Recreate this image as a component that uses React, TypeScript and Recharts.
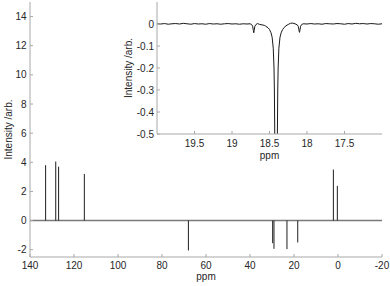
import React from 'react'
import { ComposedChart, LineChart, Line, XAxis, YAxis, ReferenceLine, CartesianGrid, Label } from 'recharts'

// main spectrum (ppm axis runs right-to-left)
const mainTicksX = [140, 120, 100, 80, 60, 40, 20, 0, -20]
const mainTicksY = [-2, 0, 2, 4, 6, 8, 10, 12, 14]
const baselineShift = [140, -20]
const peakShift = [132.9, 128.3, 127.0, 115.3, 68.0, 29.7, 29.1, 23.2, 18.3, 2.1, 0.3]
const peakHeight = [3.8, 4.05, 3.7, 3.2, -2.05, -1.55, -1.94, -1.96, -1.5, 3.5, 2.38]

// inset zoom around 18.4 ppm
const insetTicksX = [19.5, 19, 18.5, 18, 17.5]
const insetTicksY = [-0.5, -0.4, -0.3, -0.2, -0.1, 0]
const insetShift = [
  20.0, 19.95, 19.9, 19.85, 19.8, 19.75, 19.7, 19.65, 19.6, 19.55,
  19.5, 19.45, 19.4, 19.35, 19.3, 19.25, 19.2, 19.15, 19.1, 19.05,
  19.0, 18.95, 18.9, 18.85, 18.8, 18.76, 18.74, 18.725, 18.715, 18.71,
  18.705, 18.695, 18.68, 18.66, 18.63, 18.6, 18.57, 18.55, 18.52, 18.5,
  18.48, 18.465, 18.45, 18.44, 18.435, 18.43, 18.425, 18.42, 18.413, 18.405,
  18.4, 18.395, 18.39, 18.385, 18.375, 18.36, 18.345, 18.325, 18.305, 18.28,
  18.25, 18.22, 18.19, 18.16, 18.13, 18.115, 18.105, 18.1, 18.095, 18.085,
  18.07, 18.05, 18.0, 17.95, 17.9, 17.85, 17.8, 17.75, 17.7, 17.65,
  17.6, 17.55, 17.5, 17.45, 17.4, 17.35, 17.3, 17.25, 17.2, 17.15,
  17.1, 17.05, 17.0,
]
const insetIntensity = [
  0.001, 0.0, 0.002, -0.001, 0.001, 0.002, 0.0, 0.003, 0.001, -0.001,
  0.002, 0.0, 0.001, -0.001, 0.002, 0.0, 0.001, -0.001, 0.001, 0.002,
  0.0, 0.001, -0.001, 0.001, 0.0, 0.001, -0.002, -0.01, -0.03, -0.04,
  -0.03, -0.01, -0.002, 0.002, -0.002, -0.004, -0.006, -0.01, -0.017, -0.025,
  -0.04, -0.06, -0.11, -0.2, -0.3, -0.5, -0.9, -1.6, -2.0, -1.6,
  -0.9, -0.5, -0.3, -0.2, -0.11, -0.06, -0.04, -0.025, -0.016, -0.008,
  -0.002, 0.003, 0.004, 0.001, -0.004, -0.012, -0.032, -0.038, -0.03, -0.01,
  -0.002, 0.001, 0.0, 0.002, 0.0, 0.001, -0.001, 0.002, 0.001, 0.0,
  0.002, 0.001, -0.001, 0.002, 0.0, 0.003, 0.001, 0.002, 0.0, 0.002,
  0.001, -0.001, 0.001,
]

const FONT = "'Liberation Sans', Arial, Helvetica, sans-serif"
const AXIS = '#a8a8a8'
const TEXT = '#262626'
const tickStyle = { fontSize: 10, fill: TEXT, fontFamily: FONT }
const noLabel = () => ''

export default function App() {
  const baseline = baselineShift.map(ppm => ({ ppm, v: 0 }))
  const inset = insetShift.map((ppm, i) => ({ ppm, v: insetIntensity[i] }))

  return (
    <div style={{ position: 'absolute', left: 0, top: 0, width: 390, height: 286, background: '#fff' }}>
      <ComposedChart width={390} height={286} data={baseline} margin={{ top: 2, right: 8, bottom: 0, left: 0 }}>
        <XAxis xAxisId="b" dataKey="ppm" type="number" domain={[-20, 140]} reversed ticks={mainTicksX}
          height={29} stroke={AXIS} tickSize={-3} tickMargin={8} tick={tickStyle} allowDataOverflow>
          <Label value="ppm" position="insideBottom" offset={6} fontSize={10} fill={TEXT} fontFamily={FONT} />
        </XAxis>
        <XAxis xAxisId="t" orientation="top" dataKey="ppm" type="number" domain={[-20, 140]} reversed ticks={mainTicksX}
          height={0} stroke={AXIS} tickSize={-3} tickFormatter={noLabel} allowDataOverflow />
        <YAxis yAxisId="l" type="number" domain={[-2.5, 15]} ticks={mainTicksY} width={30}
          stroke={AXIS} tickSize={-3} tickMargin={6.5} tick={tickStyle} allowDataOverflow>
          <Label value="Intensity /arb." angle={-90} position="center" dx={-6.5} fontSize={10} fill={TEXT} fontFamily={FONT} />
        </YAxis>
        <YAxis yAxisId="r" orientation="right" type="number" domain={[-2.5, 15]} ticks={mainTicksY} width={0}
          stroke={AXIS} tickSize={-3} tickFormatter={noLabel} allowDataOverflow />
        <Line xAxisId="b" yAxisId="l" dataKey="v" stroke="#7a7a7a" strokeWidth={1.5} dot={false} isAnimationActive={false} />
        {peakShift.map((p, i) => (
          <ReferenceLine key={i} xAxisId="b" yAxisId="l"
            segment={[{ x: p, y: 0 }, { x: p, y: peakHeight[i] }]}
            stroke="#1e1e1e" strokeWidth={1} />
        ))}
      </ComposedChart>

      {/* inset */}
      <div style={{ position: 'absolute', left: 0, top: 0 }}>
        <LineChart width={390} height={286} data={inset} margin={{ top: 2, right: 8, bottom: 123, left: 127 }}>
          <CartesianGrid xAxisId="b" yAxisId="l" fill="#fff" stroke="none" horizontal={false} vertical={false} />
          <XAxis xAxisId="b" dataKey="ppm" type="number" domain={[17, 20]} reversed ticks={insetTicksX}
            height={29} stroke={AXIS} tickSize={-3} tickMargin={9} tick={tickStyle} allowDataOverflow>
            <Label value="ppm" position="insideBottom" offset={4} fontSize={10} fill={TEXT} fontFamily={FONT} />
          </XAxis>
          <XAxis xAxisId="t" orientation="top" dataKey="ppm" type="number" domain={[17, 20]} reversed ticks={insetTicksX}
            height={0} stroke={AXIS} tickSize={-3} tickFormatter={noLabel} allowDataOverflow />
          <YAxis yAxisId="l" type="number" domain={[-0.5, 0.1]} ticks={insetTicksY} width={30}
            stroke={AXIS} tickSize={-3} tickMargin={6} tick={tickStyle} tickFormatter={(v: number) => String(v)} allowDataOverflow>
            <Label value="Intensity /arb." angle={-90} position="center" dx={-14} fontSize={10} fill={TEXT} fontFamily={FONT} />
          </YAxis>
          <YAxis yAxisId="r" orientation="right" type="number" domain={[-0.5, 0.1]} ticks={insetTicksY} width={0}
            stroke={AXIS} tickSize={-3} tickFormatter={noLabel} allowDataOverflow />
          <Line xAxisId="b" yAxisId="l" type="linear" dataKey="v" stroke="#1a1a1a" strokeWidth={1} dot={false} isAnimationActive={false} />
        </LineChart>
      </div>
    </div>
  )
}
